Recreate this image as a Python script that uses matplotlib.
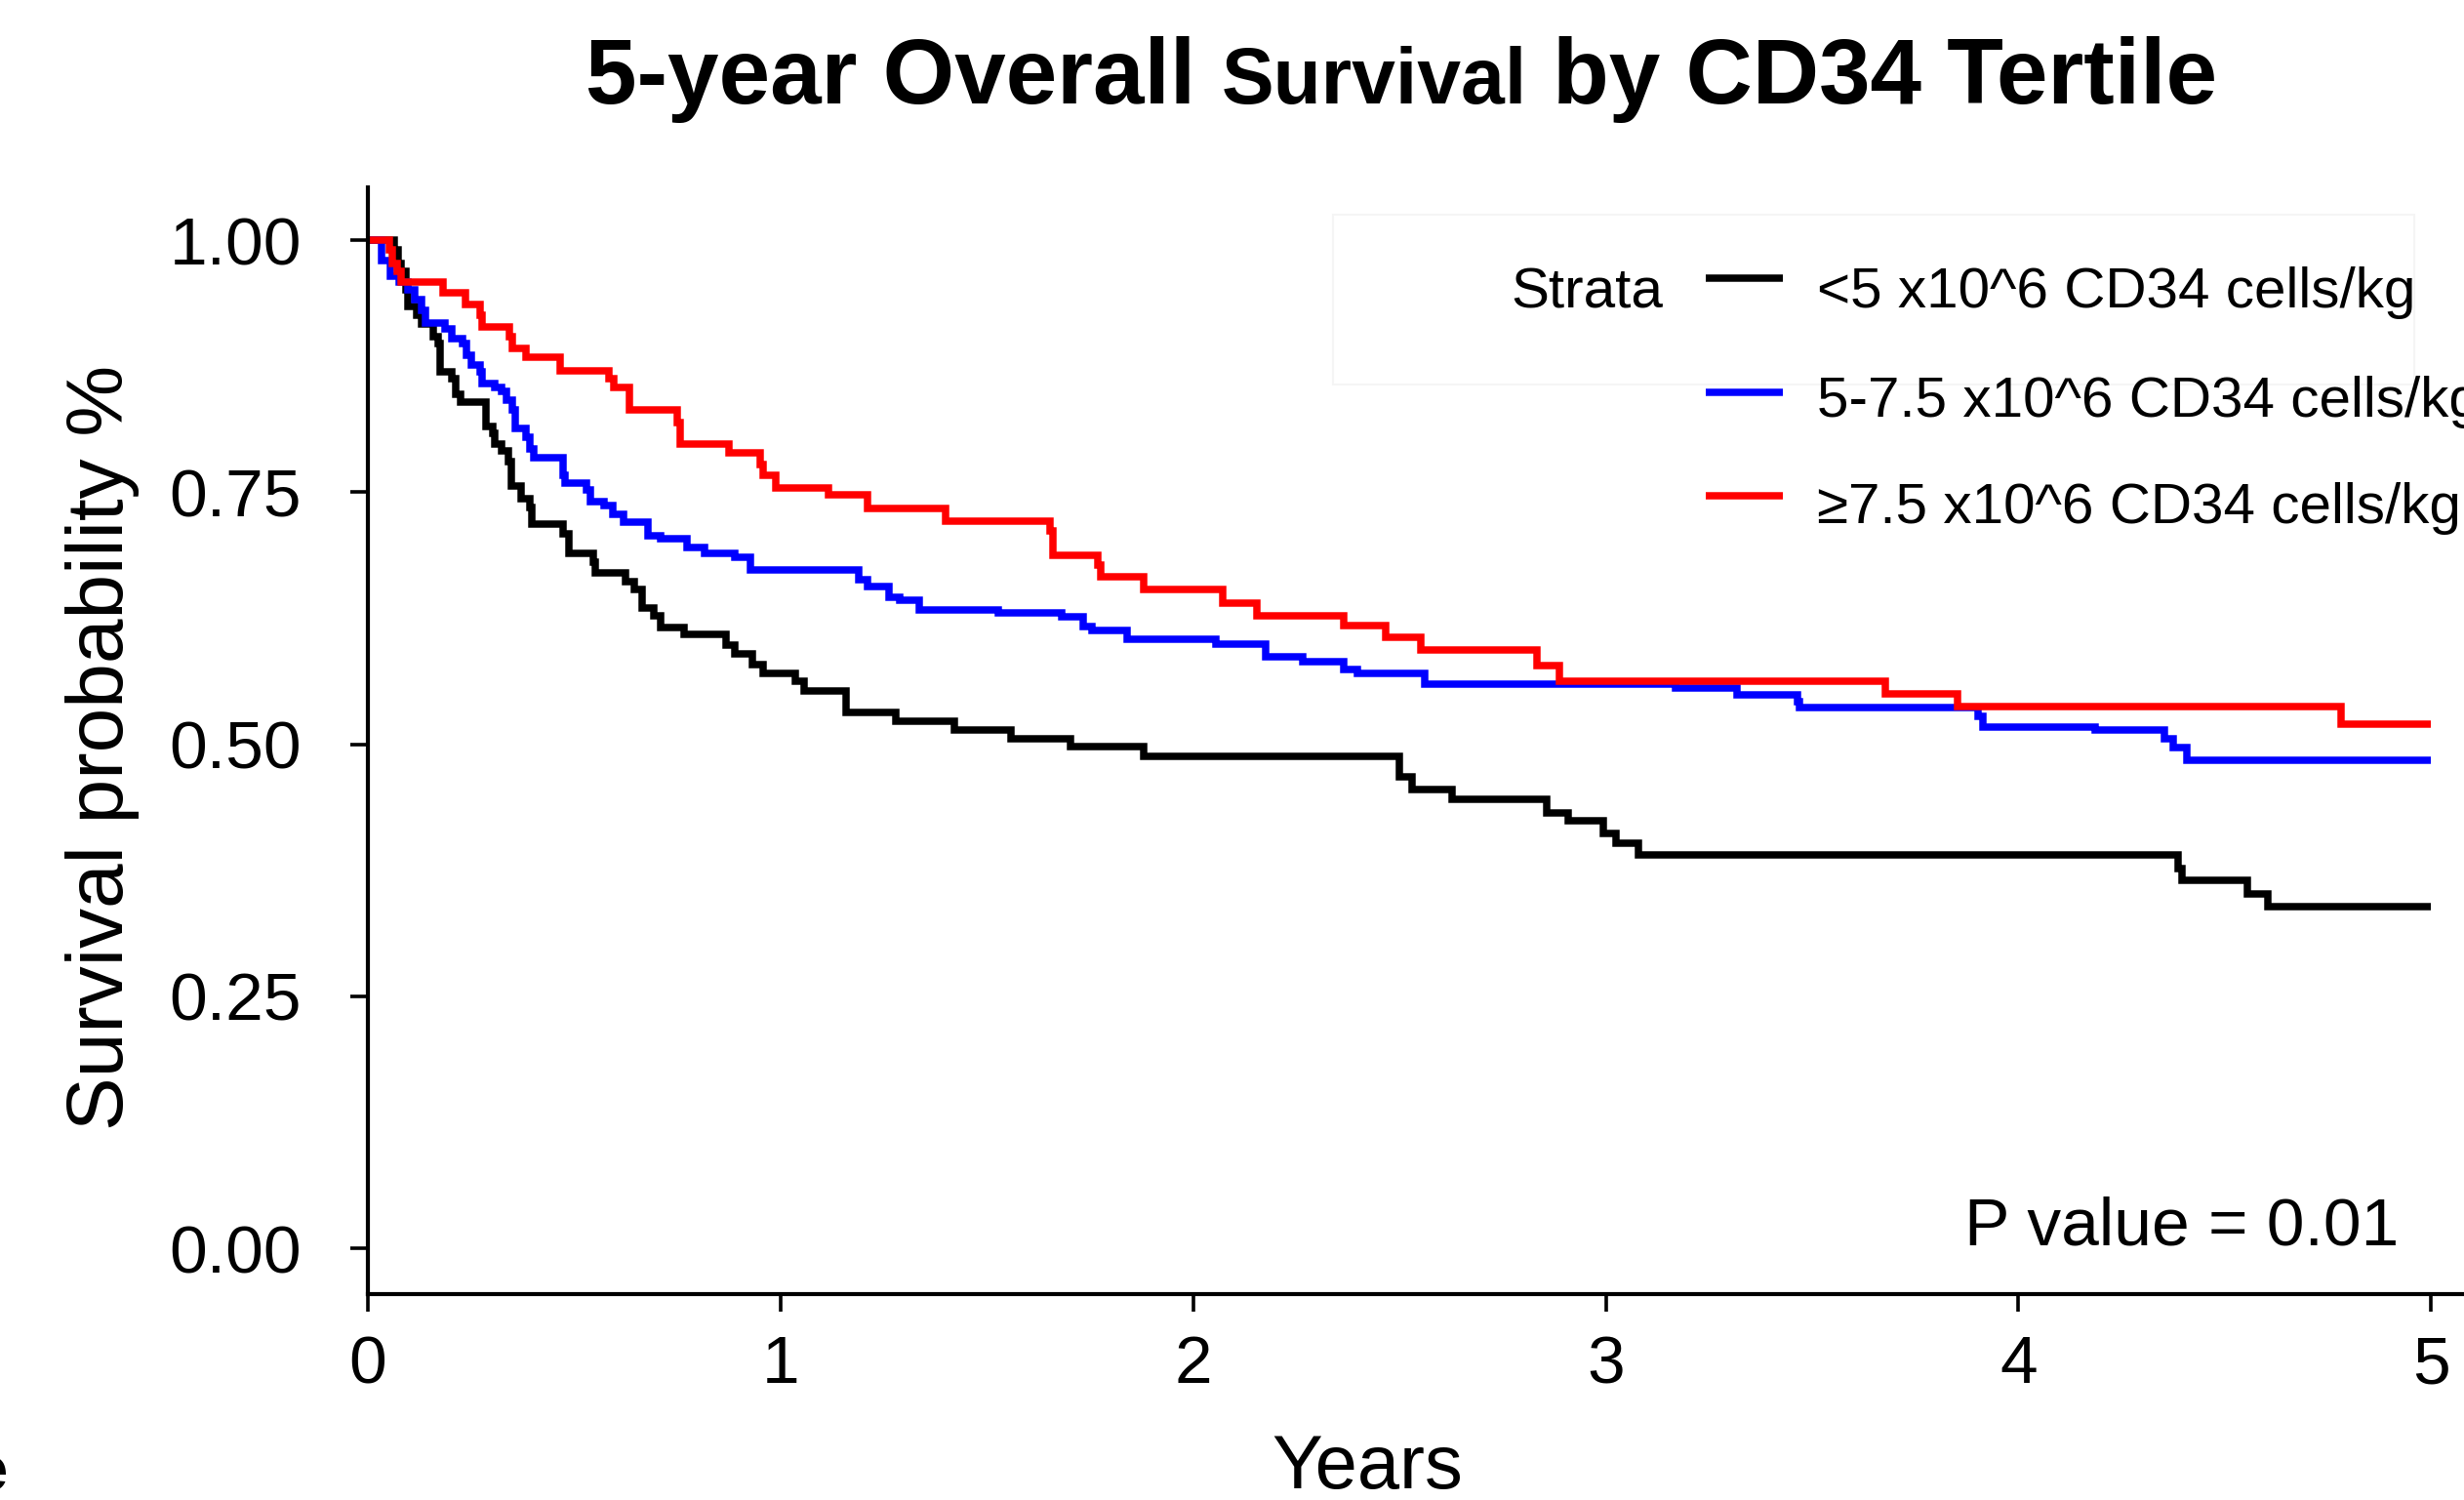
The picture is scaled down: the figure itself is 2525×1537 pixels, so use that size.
import matplotlib
matplotlib.use("Agg")
import matplotlib.pyplot as plt
from matplotlib.lines import Line2D
from matplotlib.patches import Rectangle

plt.rcParams['font.family'] = ['Liberation Sans', 'DejaVu Sans']

# ---------------- data ----------------
years_lt5 = [0, 0.065, 0.074, 0.081, 0.092, 0.097, 0.118, 0.129, 0.158, 0.171,
             0.176, 0.203, 0.213, 0.224, 0.287, 0.303, 0.308, 0.324, 0.340, 0.348,
             0.372, 0.393, 0.398, 0.472, 0.488, 0.546, 0.551, 0.625, 0.646, 0.665,
             0.693, 0.709, 0.767, 0.868, 0.889, 0.931, 0.957, 1.036, 1.058, 1.158,
             1.279, 1.422, 1.559, 1.702, 1.881, 2.499, 2.530, 2.628, 2.857, 2.910,
             2.995, 3.024, 3.079, 4.386, 4.396, 4.556, 4.605, 5.0]
surv_lt5 = [1.0, 0.990, 0.977, 0.969, 0.951, 0.934, 0.925, 0.917, 0.904, 0.897,
            0.869, 0.863, 0.847, 0.839, 0.815, 0.808, 0.798, 0.791, 0.780, 0.756,
            0.743, 0.735, 0.718, 0.709, 0.689, 0.681, 0.670, 0.661, 0.653, 0.635,
            0.627, 0.616, 0.609, 0.598, 0.590, 0.579, 0.570, 0.562, 0.553, 0.531,
            0.523, 0.514, 0.505, 0.498, 0.488, 0.468, 0.455, 0.445, 0.432, 0.424,
            0.411, 0.402, 0.390, 0.377, 0.365, 0.351, 0.339, 0.339]

years_mid = [0, 0.034, 0.055, 0.076, 0.097, 0.113, 0.129, 0.139, 0.187, 0.203,
             0.229, 0.240, 0.250, 0.271, 0.277, 0.308, 0.324, 0.335, 0.350, 0.356,
             0.382, 0.393, 0.403, 0.472, 0.477, 0.530, 0.540, 0.572, 0.593, 0.620,
             0.678, 0.709, 0.773, 0.815, 0.889, 0.926, 1.189, 1.211, 1.263, 1.290,
             1.337, 1.527, 1.681, 1.733, 1.755, 1.839, 2.055, 2.175, 2.266, 2.365,
             2.398, 2.562, 3.169, 3.317, 3.465, 3.470, 3.902, 3.914, 4.186, 4.355,
             4.375, 4.408, 5.0]
surv_mid = [1.0, 0.980, 0.964, 0.958, 0.951, 0.941, 0.930, 0.918, 0.912, 0.902,
            0.897, 0.886, 0.876, 0.869, 0.858, 0.854, 0.850, 0.841, 0.832, 0.813,
            0.804, 0.793, 0.784, 0.767, 0.759, 0.752, 0.741, 0.737, 0.728, 0.720,
            0.707, 0.704, 0.695, 0.689, 0.685, 0.673, 0.663, 0.656, 0.646, 0.643,
            0.633, 0.630, 0.626, 0.617, 0.613, 0.604, 0.599, 0.587, 0.582, 0.574,
            0.570, 0.560, 0.556, 0.549, 0.542, 0.536, 0.528, 0.517, 0.514, 0.505,
            0.497, 0.484, 0.484]

years_hi = [0, 0.053, 0.060, 0.070, 0.080, 0.182, 0.236, 0.271, 0.277, 0.342,
            0.350, 0.382, 0.466, 0.583, 0.595, 0.633, 0.749, 0.757, 0.874, 0.950,
            0.958, 0.989, 1.116, 1.211, 1.401, 1.652, 1.660, 1.770, 1.776, 1.881,
            2.071, 2.154, 2.365, 2.467, 2.552, 2.834, 2.887, 3.677, 3.852, 4.783, 5.0]
surv_hi = [1.0, 0.990, 0.977, 0.969, 0.958, 0.948, 0.936, 0.925, 0.914, 0.904,
           0.893, 0.884, 0.870, 0.863, 0.854, 0.832, 0.819, 0.798, 0.789, 0.777,
           0.767, 0.754, 0.747, 0.734, 0.721, 0.712, 0.687, 0.678, 0.666, 0.653,
           0.640, 0.627, 0.618, 0.606, 0.593, 0.578, 0.562, 0.550, 0.537, 0.520, 0.520]

strata_labels = ["<5 x10^6 CD34 cells/kg",
                 "5-7.5 x10^6 CD34 cells/kg",
                 "\u22657.5 x10^6 CD34 cells/kg"]
strata_colors = ["#000000", "#0000FF", "#FF0000"]
x_ticks = [0, 1, 2, 3, 4, 5]
x_ticklabels = ["0", "1", "2", "3", "4", "5"]
y_ticks = [0.0, 0.25, 0.5, 0.75, 1.0]
y_ticklabels = ["0.00", "0.25", "0.50", "0.75", "1.00"]
p_text = "P value = 0.01"

# ---------------- figure ----------------
W, H = 2525, 1537
fig = plt.figure(figsize=(W / 100, H / 100), dpi=100)
fig.patch.set_facecolor("white")


def fx(px):
    return px / W


def fy(py):
    return 1 - py / H


ax = fig.add_axes([fx(377), fy(1325.5), 1 - fx(377), fy(192.3) - fy(1325.5)])
ax.set_xlim(0, 5.08)
ax.set_ylim(-0.045, 1.052)

series = [(years_lt5, surv_lt5), (years_mid, surv_mid), (years_hi, surv_hi)]
for (t, s), c in zip(series, strata_colors):
    ax.step(t, s, where="post", color=c, lw=5.4, solid_joinstyle="miter",
            solid_capstyle="butt")

for side in ["top", "right"]:
    ax.spines[side].set_visible(False)
for side in ["left", "bottom"]:
    ax.spines[side].set_linewidth(3.0)
    ax.spines[side].set_color("black")

ax.set_xticks(x_ticks)
ax.set_xticklabels(x_ticklabels)
ax.set_yticks(y_ticks)
ax.set_yticklabels(y_ticklabels)
ax.tick_params(axis="x", length=13, width=2.6, pad=17, labelsize=50)
ax.tick_params(axis="y", length=13, width=2.6, pad=36, labelsize=50)

# axis labels
fig.text(fx(105), fy(766), "Survival probability %", rotation=90,
         ha="center", va="center", fontsize=59)
fig.text(fx(1401), fy(1525), "Years", ha="center", va="baseline", fontsize=56)

# p value
fig.text(fx(2013), fy(1276), p_text, ha="left", va="baseline", fontsize=50)

# legend (manual, ggplot style)
fig.add_artist(Rectangle((fx(1366), fy(394)), fx(2474) - fx(1366), fy(220) - fy(394),
                         transform=fig.transFigure, fill=False,
                         edgecolor="#f5f5f5", lw=1.5))
fig.text(fx(1548), fy(315), "Strata", ha="left", va="baseline", fontsize=42)
line_y = [285, 402, 508]
text_base = [315, 427, 536]
for lab, c, ly, tb in zip(strata_labels, strata_colors, line_y, text_base):
    fig.add_artist(Line2D([fx(1748), fx(1827)], [fy(ly), fy(ly)],
                          transform=fig.transFigure, color=c, lw=5.4,
                          solid_capstyle="butt"))
    fig.text(fx(1862), fy(tb), lab, ha="left", va="baseline", fontsize=42)

# cut-off letter at bottom-left edge (as in the reference)
fig.text(fx(-29), fy(1527), "e", ha="left", va="baseline", fontsize=47,
         fontweight="bold")

# title in three pieces (middle word slightly smaller)
pieces = [("5-year Overall", 68), ("Survival", 58), ("by CD34 Tertile", 68)]
texts = [fig.text(0, fy(106), p, fontsize=s, fontweight="bold",
                  ha="left", va="baseline") for p, s in pieces]
fig.canvas.draw()
r = fig.canvas.get_renderer()
widths = [t.get_window_extent(r).width for t in texts]
gap = 0.278 * 68 * 100 / 72
total = sum(widths) + 2 * gap
x = 1436 - total / 2
for t, w in zip(texts, widths):
    t.set_x(fx(x))
    x += w + gap

fig.savefig("out.png", dpi=100)
